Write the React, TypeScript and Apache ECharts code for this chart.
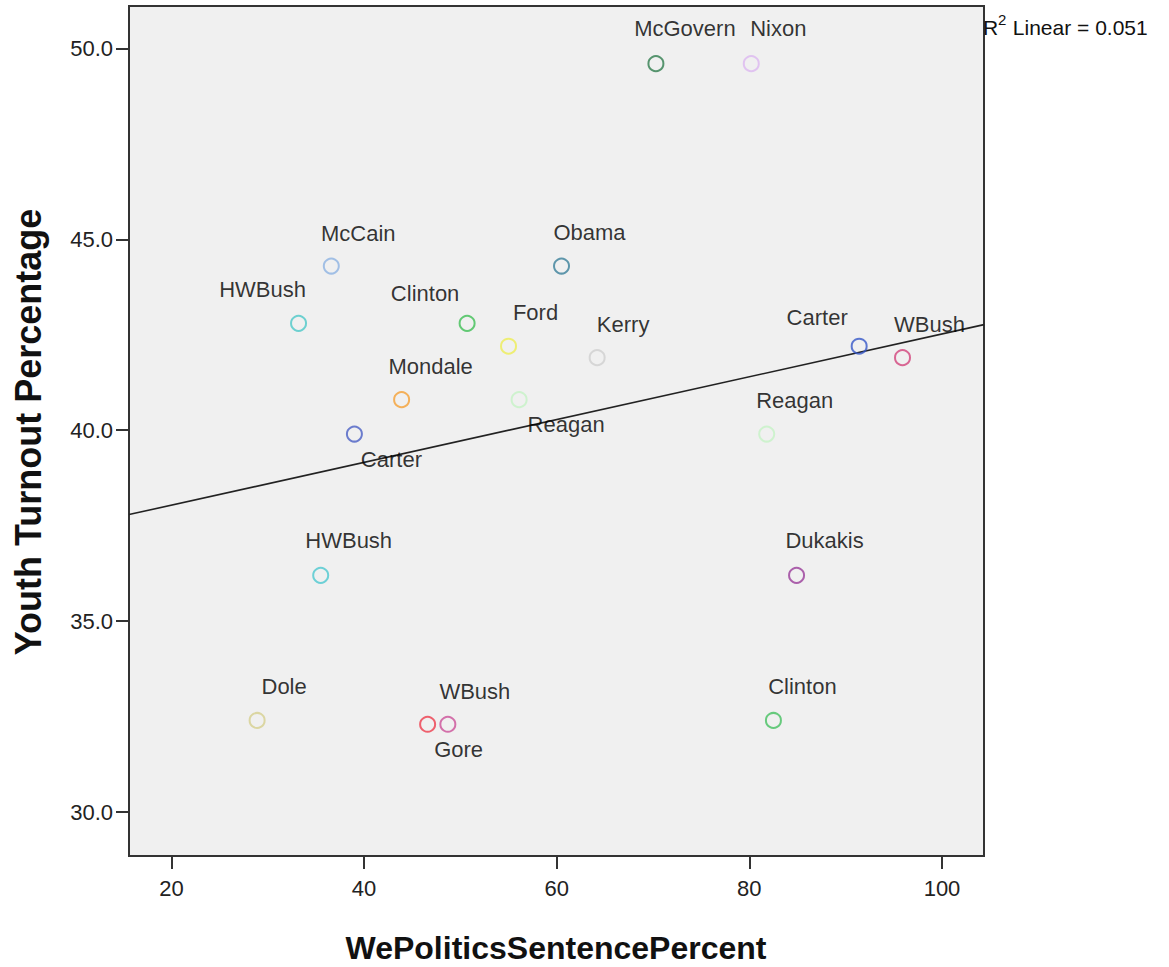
import React, { useEffect, useRef } from "react";
import * as echarts from "echarts";

const names = [
  "McGovern", "Nixon", "McCain", "Obama", "HWBush", "Clinton", "Ford", "Kerry",
  "Carter", "WBush", "Mondale", "Reagan", "Carter", "Reagan", "HWBush", "Dukakis",
  "Dole", "Gore", "WBush", "Clinton",
];
const xValues = [70.3, 80.2, 36.6, 60.5, 33.2, 50.7, 55.0, 64.2, 91.4, 95.9, 43.9, 56.1, 39.0, 81.8, 35.5, 84.9, 28.9, 46.6, 48.7, 82.5];
const yValues = [49.6, 49.6, 44.3, 44.3, 42.8, 42.8, 42.2, 41.9, 42.2, 41.9, 40.8, 40.8, 39.9, 39.9, 36.2, 36.2, 32.4, 32.3, 32.3, 32.4];
const pointColors = [
  "#2f7d4e", "#dcb8f0", "#8db3e2", "#3a7f9a", "#4cc8c8", "#3fbf55", "#eeee55", "#cfcfcf",
  "#3658c8", "#d2447c", "#f5a035", "#c6f3c6", "#4a5fc4", "#c6f3c6", "#4cc8d0", "#9a3c9a",
  "#d6cf8e", "#ee3c4c", "#cc5098", "#45c060",
];
const labelOffsets: [number, number][] = [
  [29, -35], [27, -35], [27, -33], [28, -34], [-36, -34], [-42, -30], [27, -34], [26, -33],
  [-42, -29], [27, -33], [29, -33], [47, 25], [37, 25], [28, -34], [28, -35], [28, -35],
  [27, -34], [31, 25], [27, -33], [29, -34],
];
const xTicks = [20, 40, 60, 80, 100];
const yTicks = [30, 35, 40, 45, 50];
const xTitle = "WePoliticsSentencePercent";
const yTitle = "Youth Turnout Percentage";
const r2Text = " Linear = 0.051";

const X_MIN = 15.6;
const X_MAX = 104.36;
const Y_MIN = 28.85;
const Y_MAX = 51.11;

const FONT = "'Liberation Sans', Arial, Helvetica, sans-serif";

function fitLine(xs: number[], ys: number[]) {
  const n = xs.length;
  const mx = xs.reduce((a, b) => a + b, 0) / n;
  const my = ys.reduce((a, b) => a + b, 0) / n;
  let sxy = 0;
  let sxx = 0;
  for (let i = 0; i < n; i++) {
    sxy += (xs[i] - mx) * (ys[i] - my);
    sxx += (xs[i] - mx) * (xs[i] - mx);
  }
  const b = sxy / sxx;
  const a = my - b * mx;
  return { a, b };
}

export default function App() {
  const ref = useRef<HTMLDivElement>(null);
  useEffect(() => {
    if (!ref.current) return;
    const chart = echarts.init(ref.current, undefined, { renderer: "svg" });
    const { a, b } = fitLine(xValues, yValues);
    const data = names.map((n, i) => ({
      name: n,
      value: [xValues[i], yValues[i]],
      itemStyle: { color: "rgba(0,0,0,0)", borderColor: pointColors[i], borderWidth: 2 },
      label: { offset: labelOffsets[i] },
    }));
    const axisCommon = {
      axisLine: { show: true, onZero: false, lineStyle: { color: "#333", width: 2 } },
      splitLine: { show: false },
    };
    chart.setOption({
      animation: false,
      backgroundColor: "#ffffff",
      grid: {
        left: 129,
        right: 185,
        top: 6,
        bottom: 111,
        show: true,
        backgroundColor: "#f0f0f0",
        borderColor: "#333",
        borderWidth: 2,
      },
      xAxis: {
        type: "value",
        min: X_MIN,
        max: X_MAX,
        ...axisCommon,
        axisTick: { show: true, length: 13, lineStyle: { color: "#333", width: 2 }, customValues: xTicks },
        axisLabel: {
          customValues: xTicks,
          fontSize: 22,
          color: "#222",
          fontFamily: FONT,
          margin: 21,
        },
      },
      yAxis: {
        type: "value",
        min: Y_MIN,
        max: Y_MAX,
        ...axisCommon,
        axisTick: { show: true, length: 13, lineStyle: { color: "#333", width: 2 }, customValues: yTicks },
        axisLabel: {
          customValues: yTicks,
          fontSize: 22,
          color: "#222",
          fontFamily: FONT,
          margin: 16,
          formatter: (v: number) => v.toFixed(1),
        },
      },
      series: [
        {
          type: "line",
          data: [
            [X_MIN, a + b * X_MIN],
            [X_MAX, a + b * X_MAX],
          ],
          showSymbol: false,
          symbol: "none",
          lineStyle: { color: "#222", width: 1.6 },
          z: 2,
          silent: true,
        },
        {
          type: "scatter",
          data,
          symbol: "circle",
          symbolSize: 15,
          z: 3,
          label: {
            show: true,
            position: "inside",
            formatter: "{b}",
            fontSize: 22,
            color: "#000",
            textBorderWidth: 0,
            textBorderColor: "transparent",
            fontFamily: FONT,
          },
        },
      ],
      graphic: [
        {
          type: "text",
          left: 983,
          top: 17,
          style: { text: "R", fontSize: 21, fill: "#111", fontFamily: FONT },
        },
        {
          type: "text",
          left: 998,
          top: 12,
          style: { text: "2", fontSize: 15, fill: "#111", fontFamily: FONT },
        },
        {
          type: "text",
          left: 1007,
          top: 17,
          style: { text: r2Text, fontSize: 21, fill: "#111", fontFamily: FONT },
        },
        {
          type: "text",
          x: 556,
          y: 948,
          style: {
            text: xTitle,
            fontSize: 32,
            fontWeight: "bold",
            fill: "#111",
            fontFamily: FONT,
            align: "center",
            verticalAlign: "middle",
          },
        },
        {
          type: "text",
          x: 28,
          y: 432,
          rotation: Math.PI / 2,
          style: {
            text: yTitle,
            fontSize: 36,
            fontWeight: "bold",
            fill: "#111",
            fontFamily: FONT,
            align: "center",
            verticalAlign: "middle",
          },
        },
      ],
    });
    return () => chart.dispose();
  }, []);
  return (
    <div
      ref={ref}
      style={{ position: "fixed", left: 0, top: 0, width: 1169, height: 967 }}
    />
  );
}
